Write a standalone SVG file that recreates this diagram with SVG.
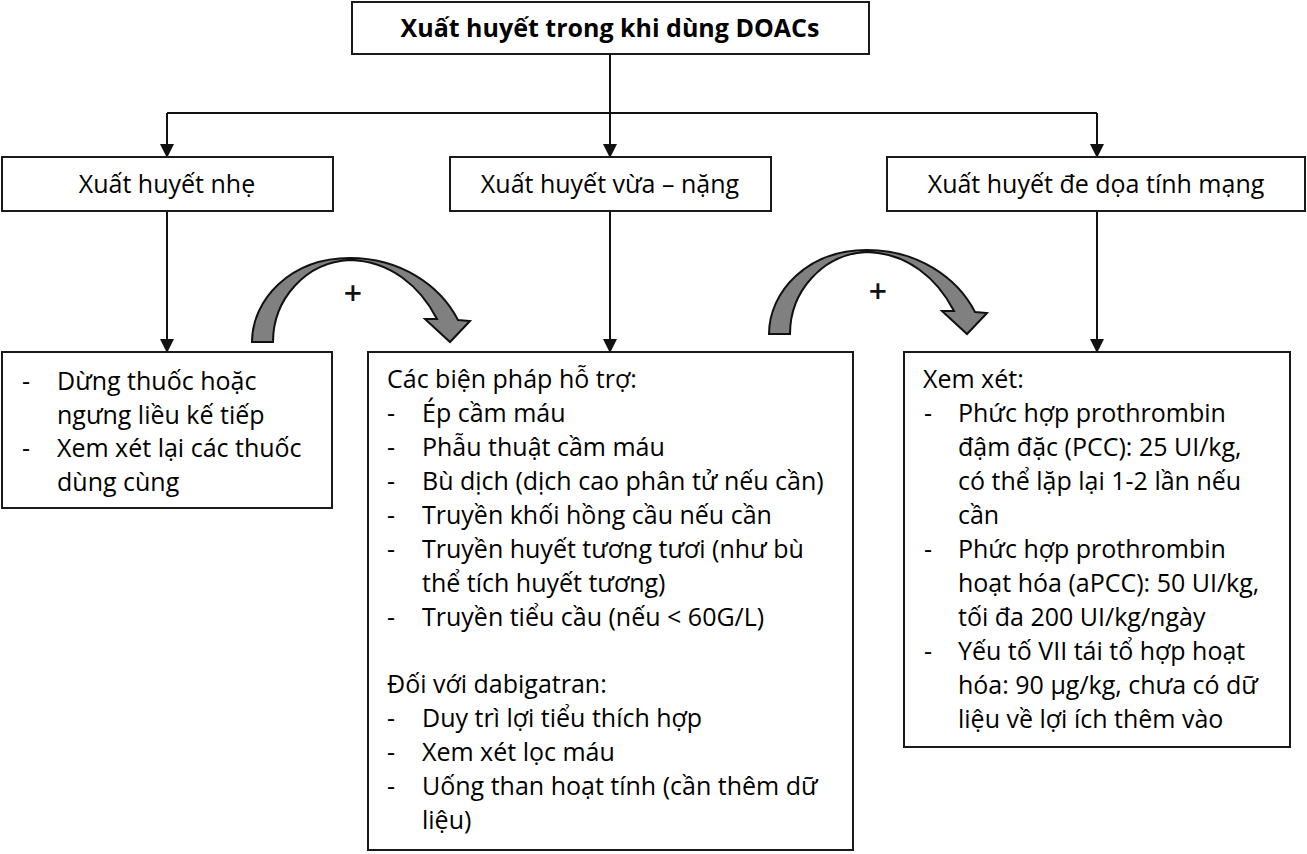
<svg xmlns="http://www.w3.org/2000/svg" width="1307" height="854" viewBox="0 0 1307 854">
<style>
.box{fill:#fff;stroke:#1a1a1a;stroke-width:2}
.t{font-family:"Open Sans","Noto Sans",sans-serif;font-size:25px;fill:#000}
.title{font-family:"Open Sans","Noto Sans",sans-serif;font-size:25px;font-weight:bold;fill:#000}
.c{text-anchor:middle}
.ln{stroke:#111;stroke-width:2;fill:none}
.curve{fill:#808080;stroke:#111;stroke-width:2;stroke-linejoin:miter}
.plus{font-family:"Open Sans","Noto Sans",sans-serif;font-size:32px;font-weight:600;fill:#111;text-anchor:middle}
</style>
<defs>
<marker id="ah" markerUnits="userSpaceOnUse" markerWidth="14" markerHeight="16" refX="13" refY="7" orient="auto">
<path d="M0,0 L14,7 L0,14 Z" fill="#111"/>
</marker>
<path id="carrow" d="M252,342 C252,300 290,258 350,258 C400,258 440,285 458,320 L470,321 L450,342 L425,319 L437,319 C420,286 390,261 350,260 C305,262 273,300 273,342 Z"/>
</defs>

<g id="connectors">
<line class="ln" x1="610" y1="54" x2="610" y2="113"/>
<line class="ln" x1="167" y1="113" x2="1097" y2="113"/>
<line class="ln" x1="167" y1="113" x2="167" y2="157" marker-end="url(#ah)"/>
<line class="ln" x1="610" y1="113" x2="610" y2="157" marker-end="url(#ah)"/>
<line class="ln" x1="1097" y1="113" x2="1097" y2="157" marker-end="url(#ah)"/>
<line class="ln" x1="167" y1="211" x2="167" y2="352" marker-end="url(#ah)"/>
<line class="ln" x1="610" y1="211" x2="610" y2="352" marker-end="url(#ah)"/>
<line class="ln" x1="1097" y1="211" x2="1097" y2="352" marker-end="url(#ah)"/>
<use href="#carrow" class="curve"/>
<use href="#carrow" class="curve" transform="translate(517,-8)"/>
<text class="plus" x="353" y="305">+</text>
<text class="plus" x="878" y="303">+</text>
</g>

<g id="root">
<rect class="box" x="352" y="2" width="517" height="52"/>
<text class="title c" x="610" y="37">Xuất huyết trong khi dùng DOACs</text>
</g>

<g id="mild">
<rect class="box" x="2" y="157" width="331" height="54"/>
<text class="t c" x="167" y="193">Xuất huyết nhẹ</text>
</g>

<g id="moderate">
<rect class="box" x="450" y="157" width="321" height="54"/>
<text class="t c" x="610" y="193">Xuất huyết vừa – nặng</text>
</g>

<g id="severe">
<rect class="box" x="887" y="157" width="418" height="54"/>
<text class="t c" x="1096" y="193">Xuất huyết đe dọa tính mạng</text>
</g>

<g id="mild-actions">
<rect class="box" x="2" y="352" width="330" height="156"/>
<text class="t" x="22" y="390">-</text>
<text class="t" x="57" y="390">Dừng thuốc hoặc</text>
<text class="t" x="57" y="423.5">ngưng liều kế tiếp</text>
<text class="t" x="22" y="457">-</text>
<text class="t" x="57" y="457">Xem xét lại các thuốc</text>
<text class="t" x="57" y="490.5">dùng cùng</text>
</g>

<g id="moderate-actions">
<rect class="box" x="368" y="352" width="485" height="498"/>
<text class="t" x="387" y="388">Các biện pháp hỗ trợ:</text>
<text class="t" x="387" y="422">-</text><text class="t" x="422" y="422">Ép cầm máu</text>
<text class="t" x="387" y="456">-</text><text class="t" x="422" y="456">Phẫu thuật cầm máu</text>
<text class="t" x="387" y="490">-</text><text class="t" x="422" y="490">Bù dịch (dịch cao phân tử nếu cần)</text>
<text class="t" x="387" y="524">-</text><text class="t" x="422" y="524">Truyền khối hồng cầu nếu cần</text>
<text class="t" x="387" y="558">-</text><text class="t" x="422" y="558">Truyền huyết tương tươi (như bù</text>
<text class="t" x="422" y="592">thể tích huyết tương)</text>
<text class="t" x="387" y="626">-</text><text class="t" x="422" y="626">Truyền tiểu cầu (nếu &lt; 60G/L)</text>
<text class="t" x="387" y="693">Đối với dabigatran:</text>
<text class="t" x="387" y="727">-</text><text class="t" x="422" y="727">Duy trì lợi tiểu thích hợp</text>
<text class="t" x="387" y="761">-</text><text class="t" x="422" y="761">Xem xét lọc máu</text>
<text class="t" x="387" y="795">-</text><text class="t" x="422" y="795">Uống than hoạt tính (cần thêm dữ</text>
<text class="t" x="422" y="829">liệu)</text>
</g>

<g id="severe-actions">
<rect class="box" x="904" y="352" width="386" height="395"/>
<text class="t" x="923" y="388">Xem xét:</text>
<text class="t" x="924" y="422">-</text><text class="t" x="958" y="422">Phức hợp prothrombin</text>
<text class="t" x="958" y="456">đậm đặc (PCC): 25 UI/kg,</text>
<text class="t" x="958" y="490">có thể lặp lại 1-2 lần nếu</text>
<text class="t" x="958" y="524">cần</text>
<text class="t" x="924" y="558">-</text><text class="t" x="958" y="558">Phức hợp prothrombin</text>
<text class="t" x="958" y="592">hoạt hóa (aPCC): 50 UI/kg,</text>
<text class="t" x="958" y="626">tối đa 200 UI/kg/ngày</text>
<text class="t" x="924" y="660">-</text><text class="t" x="958" y="660">Yếu tố VII tái tổ hợp hoạt</text>
<text class="t" x="958" y="694">hóa: 90 µg/kg, chưa có dữ</text>
<text class="t" x="958" y="728">liệu về lợi ích thêm vào</text>
</g>
</svg>
